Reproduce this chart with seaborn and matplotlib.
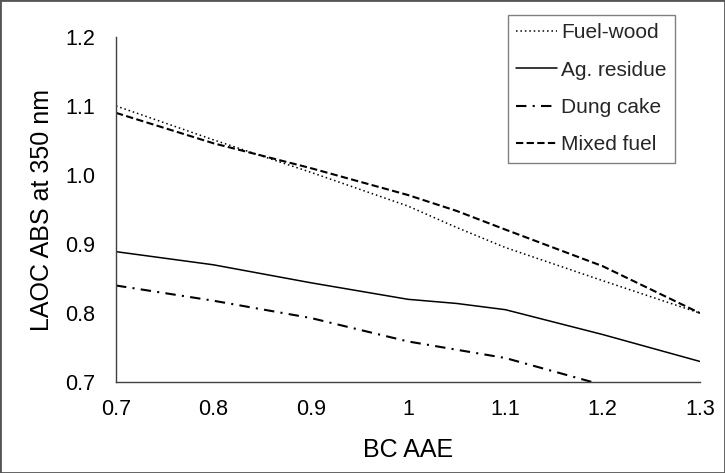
import matplotlib
matplotlib.use("Agg")
import matplotlib.pyplot as plt
from matplotlib.patches import Rectangle
import seaborn as sns
import pandas as pd

# BC absorption Angstrom exponent and LAOC absorption at 350 nm per fuel type
bc_aae = [0.7, 0.8, 0.9, 1.0, 1.05, 1.1, 1.2, 1.3]
fuel_wood = [1.100, 1.051, 1.004, 0.955, 0.924, 0.895, 0.847, 0.800]
ag_residue = [0.889, 0.870, 0.844, 0.820, 0.814, 0.805, 0.769, 0.730]
dung_cake = [0.840, 0.818, 0.793, 0.759, 0.747, 0.735, 0.696, 0.655]
mixed_fuel = [1.090, 1.046, 1.010, 0.971, 0.948, 0.921, 0.868, 0.800]

series_names = ["Fuel-wood", "Ag. residue", "Dung cake", "Mixed fuel"]
series_values = [fuel_wood, ag_residue, dung_cake, mixed_fuel]
line_styles = [(0, (1.0, 1.9)), "-", (0, (5, 3, 1, 3)), (0, (3.5, 1.6))]
line_widths = [1.1, 1.1, 1.5, 1.5]

x_ticks = [0.7, 0.8, 0.9, 1.0, 1.1, 1.2, 1.3]
x_tick_labels = ["0.7", "0.8", "0.9", "1", "1.1", "1.2", "1.3"]
y_ticks = [0.7, 0.8, 0.9, 1.0, 1.1, 1.2]
y_tick_labels = ["0.7", "0.8", "0.9", "1.0", "1.1", "1.2"]

sns.set_theme(style="white")
plt.rcParams["font.family"] = ["Liberation Sans", "DejaVu Sans"]

fig = plt.figure(figsize=(7.25, 4.73), dpi=100)
ax = fig.add_axes([0.160, 0.192, 0.8055, 0.730])

for name, vals, ls, lw in zip(series_names, series_values, line_styles, line_widths):
    df = pd.DataFrame({"BC AAE": bc_aae, "LAOC": vals})
    sns.lineplot(data=df, x="BC AAE", y="LAOC", ax=ax, color="black",
                 linewidth=lw, linestyle=ls, label=name)

ax.set_xlim(0.7, 1.3)
ax.set_ylim(0.7, 1.2)
ax.set_xticks(x_ticks)
ax.set_xticklabels(x_tick_labels)
ax.set_yticks(y_ticks)
ax.set_yticklabels(y_tick_labels)
ax.tick_params(axis="both", length=0, labelsize=15.5, colors="black")
ax.tick_params(axis="x", pad=12)
ax.tick_params(axis="y", pad=15)

for side in ["top", "right"]:
    ax.spines[side].set_visible(False)
for side in ["left", "bottom"]:
    ax.spines[side].set_color("#404040")
    ax.spines[side].set_linewidth(1.0)

ax.set_xlabel("BC AAE", fontsize=18, color="black")
ax.set_ylabel("LAOC ABS at 350 nm", fontsize=18, color="black")
ax.xaxis.label.set_va("center")
ax.yaxis.label.set_va("center")
ax.xaxis.set_label_coords(0.5, -0.195)
ax.yaxis.set_label_coords(-0.127, 0.5)

leg = ax.legend(loc="upper left", bbox_to_anchor=(508 / 725, 1 - 15 / 473),
                bbox_transform=fig.transFigure, borderaxespad=0,
                fontsize=15, frameon=True, fancybox=False, framealpha=1,
                edgecolor="#808080", handlelength=1.95, handletextpad=0.2,
                labelspacing=0.88, borderpad=0.4)
leg.get_frame().set_linewidth(1.0)

fig.patches.append(Rectangle((0, 0), 1, 1, transform=fig.transFigure,
                             fill=False, edgecolor="#555555", linewidth=2.0))

fig.savefig("out.png", dpi=100)
